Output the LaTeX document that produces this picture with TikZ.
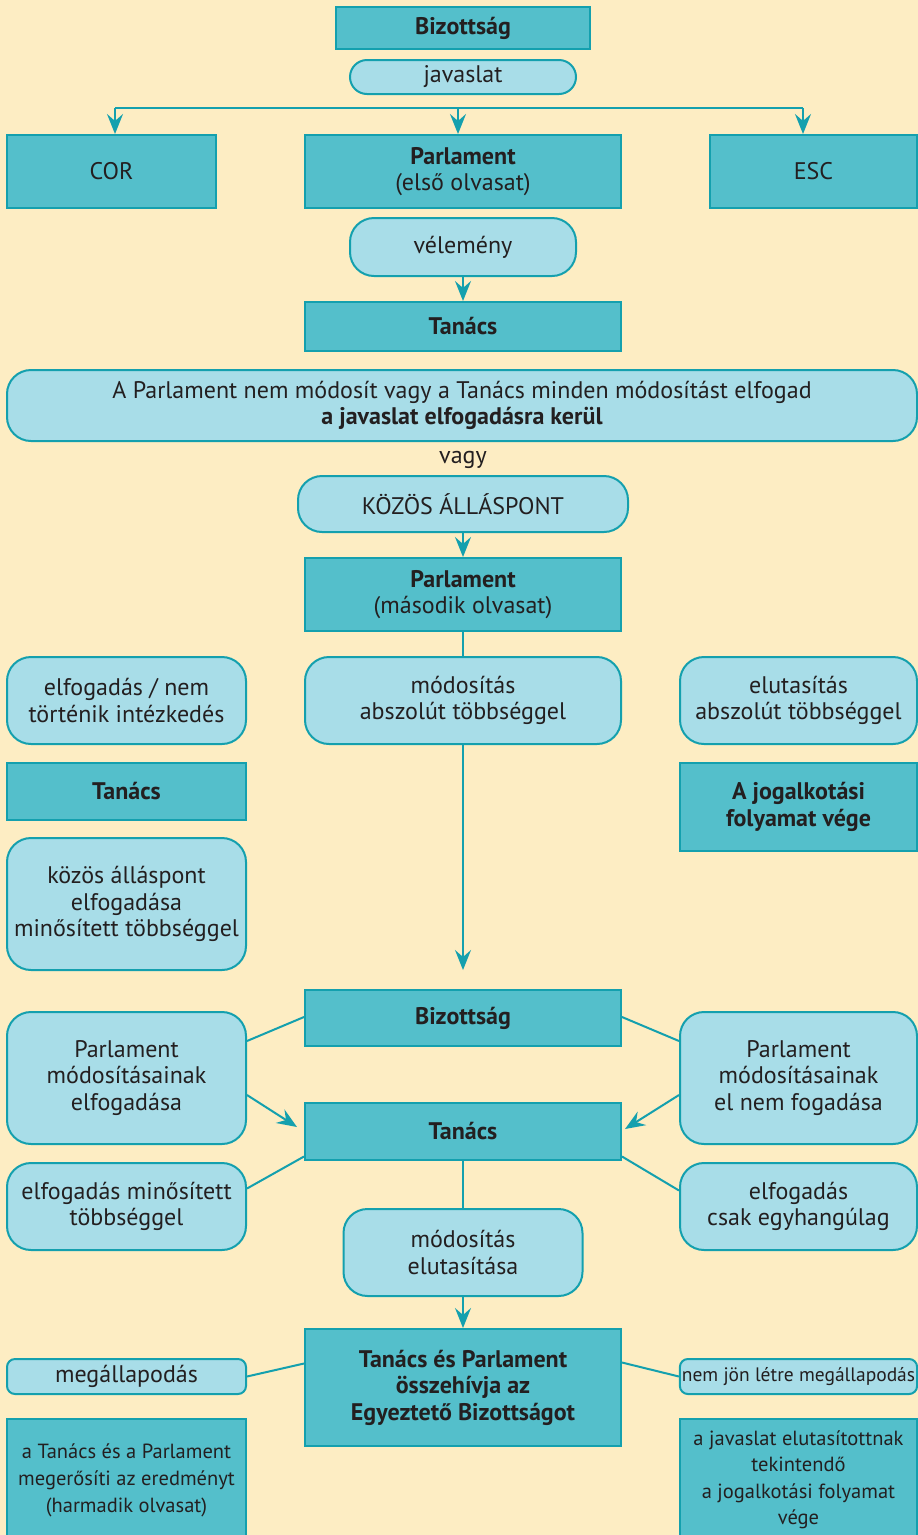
\documentclass[tikz,border=0pt]{standalone}
\usepackage{fontspec}
\setmainfont{PT Sans}
\usetikzlibrary{arrows.meta}
\definecolor{bg}{HTML}{FDEDC3}
\definecolor{dark}{HTML}{54BFCB}
\definecolor{light}{HTML}{A8DDE8}
\definecolor{edge}{HTML}{14A0AE}
\definecolor{ink}{HTML}{231F20}
\tikzset{
  base/.style={draw=edge, line width=2pt, inner sep=2pt, align=center, text=ink,
    font=\fontsize{24}{26.5}\selectfont},
  dbox/.style={base, fill=dark},
  lbox/.style={base, fill=light, rounded corners=24pt},
  conn/.style={draw=edge, line width=2pt},
  arr/.style={conn, -{Stealth[length=20pt,width=16pt,inset=7pt]}},
}
\begin{document}
\begin{tikzpicture}[x=1pt,y=-1pt]
\fill[bg] (0,0) rectangle (918,1535);
\useasboundingbox (0,0) rectangle (918,1535);

\node[dbox, minimum width=254pt, minimum height=42pt] (biz1) at (463,28) {\textbf{Bizottság}};
\node[lbox, rounded corners=17pt, minimum width=226pt, minimum height=34pt] (jav) at (463,77) {javaslat};
\node[dbox, minimum width=209pt, minimum height=73pt] (cor) at (111.5,171.5) {COR};
\node[dbox, minimum width=316pt, minimum height=73pt] (parl1) at (463,171.5) {\textbf{Parlament}\\(első olvasat)};
\node[dbox, minimum width=207pt, minimum height=73pt] (esc) at (813.5,171.5) {ESC};
\node[lbox, minimum width=226pt, minimum height=58pt] (vel) at (463,247) {vélemény};
\node[dbox, minimum width=316pt, minimum height=49pt] (tan1) at (463,326.5) {\textbf{Tanács}};
\node[lbox, minimum width=910pt, minimum height=71pt] (big) at (462,405.5) {A Parlament nem módosít vagy a Tanács minden módosítást elfogad\\\textbf{a javaslat elfogadásra kerül}};
\node[base, draw=none, fill=none] (vagy) at (463,460) {vagy};
\node[lbox, minimum width=330pt, minimum height=56pt] (kozos) at (463,504) {KÖZÖS ÁLLÁSPONT};
\node[dbox, minimum width=316pt, minimum height=73pt] (parl2) at (463,594.5) {\textbf{Parlament}\\(második olvasat)};
\node[lbox, minimum width=239pt, minimum height=87pt] (r3l) at (126.5,700.5) {elfogadás / nem\\történik intézkedés};
\node[lbox, minimum width=316pt, minimum height=87pt] (r3m) at (463,700.5) {módosítás\\abszolút többséggel};
\node[lbox, minimum width=237pt, minimum height=87pt] (r3r) at (798.5,700.5) {elutasítás\\abszolút többséggel};
\node[dbox, minimum width=239pt, minimum height=57pt] (tan2) at (126.5,791.5) {\textbf{Tanács}};
\node[dbox, minimum width=237pt, minimum height=88pt] (veg1) at (798.5,807) {\textbf{A jogalkotási}\\\textbf{folyamat vége}};
\node[lbox, minimum width=239pt, minimum height=132pt] (kozos2) at (126.5,904) {közös álláspont\\elfogadása\\minősített többséggel};
\coordinate (down) at (463,970);
\node[dbox, minimum width=316pt, minimum height=56pt] (biz2) at (463,1018) {\textbf{Bizottság}};
\node[lbox, minimum width=239pt, minimum height=132pt] (pml) at (126.5,1078) {Parlament\\módosításainak\\elfogadása};
\node[lbox, minimum width=237pt, minimum height=132pt] (pmr) at (798.5,1078) {Parlament\\módosításainak\\el nem fogadása};
\node[dbox, minimum width=316pt, minimum height=57pt] (tan3) at (463,1131.5) {\textbf{Tanács}};
\node[lbox, minimum width=239pt, minimum height=87pt] (efl) at (126.5,1206.5) {elfogadás minősített\\többséggel};
\node[lbox, minimum width=237pt, minimum height=87pt] (efr) at (798.5,1206.5) {elfogadás\\csak egyhangúlag};
\node[lbox, minimum width=239pt, minimum height=87pt] (mel) at (463,1252.5) {módosítás\\elutasítása};
\node[dbox, minimum width=316pt, minimum height=117pt] (tp) at (463,1387.5) {\textbf{Tanács és Parlament}\\\textbf{összehívja az}\\\textbf{Egyeztető Bizottságot}};
\node[lbox, rounded corners=8pt, minimum width=239pt, minimum height=35pt] (meg) at (126.5,1376.5) {megállapodás};
\node[lbox, rounded corners=8pt, minimum width=237pt, minimum height=35pt, font=\fontsize{19.5}{22}\selectfont] (nem) at (798.5,1376.5) {nem jön létre megállapodás};
\node[dbox, minimum width=239pt, minimum height=122pt, font=\fontsize{20.5}{27}\selectfont] (bl) at (126.5,1480) {a Tanács és a Parlament\\megerősíti az eredményt\\(harmadik olvasat)};
\node[dbox, minimum width=237pt, minimum height=122pt, font=\fontsize{20.5}{26.5}\selectfont] (br) at (798.5,1480) {a javaslat elutasítottnak\\tekintendő\\a jogalkotási folyamat\\vége};

% top distribution
\coordinate (bl1) at (115,108);
\coordinate (bm1) at (458,108);
\coordinate (br1) at (803,108);
\draw[conn] (bl1) -- (br1);
\draw[arr] (bl1) -- (bl1 |- cor.north);
\draw[arr] (bm1) -- (bm1 |- parl1.north);
\draw[arr] (br1) -- (br1 |- esc.north);

\draw[arr] (vel) -- (tan1);
\draw[arr] (kozos) -- (parl2);
\draw[conn] (parl2) -- (r3m);
\draw[arr] (r3m) -- (down);

% lower part
\draw[conn] ([yshift=1pt]biz2.west) -- ([yshift=37pt]pml.east);
\draw[conn] ([yshift=1pt]biz2.east) -- ([yshift=37pt]pmr.west);
\coordinate (tl) at (297,1127);
\coordinate (tr) at (625,1129);
\draw[arr] ([yshift=-17pt]pml.east) -- (tl);
\draw[arr] ([yshift=-17pt]pmr.west) -- (tr);
\draw[conn] ([yshift=-25pt]tan3.west) -- ([yshift=18pt]efl.east);
\draw[conn] ([yshift=-25pt]tan3.east) -- ([yshift=16pt]efr.west);
\draw[conn] (tan3) -- (mel);
\draw[arr] (mel) -- (tp);
\draw[conn] ([yshift=24pt]tp.west) -- (meg.east);
\draw[conn] ([yshift=25pt]tp.east) -- (nem.west);
\end{tikzpicture}
\end{document}
